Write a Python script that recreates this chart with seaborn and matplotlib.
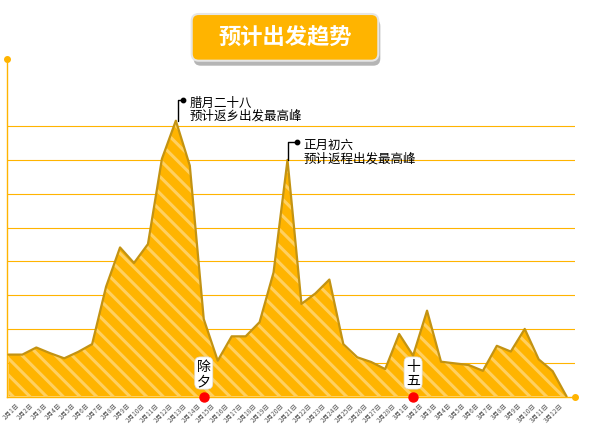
import matplotlib.pyplot as plt
import matplotlib.transforms as mtransforms
from matplotlib.patches import FancyBboxPatch
import seaborn as sns
import numpy as np
import pandas as pd

# 日期 (2月1日 - 3月12日)
dates = [f"2月{d}日" for d in range(1, 29)] + [f"3月{d}日" for d in range(1, 13)]
# 出发热度, 最后一个点为收尾 0
values = [1.24, 1.24, 1.45, 1.28, 1.13, 1.32, 1.55, 3.25, 4.41, 3.95,
          4.51, 7.03, 8.16, 6.83, 2.29, 1.06, 1.78, 1.78, 2.20, 3.67,
          7.00, 2.74, 3.05, 3.46, 1.55, 1.16, 1.02, 0.81, 1.85, 1.21,
          2.54, 1.03, 0.98, 0.93, 0.76, 1.50, 1.33, 2.00, 1.10, 0.75,
          0.0]
peak_days = ["2月13日", "2月21日"]
peak_notes = ["腊月二十八\n预计返乡出发最高峰", "正月初六\n预计返程出发最高峰"]
mark_days = ["2月15日", "3月2日"]
mark_notes = ["除\n夕", "十\n五"]

ORANGE = "#FFB400"
STRIPE = "#FFD060"
EDGE = "#C39312"

sns.set_style("white")
plt.rcParams["font.family"] = ["Noto Sans CJK SC", "DejaVu Sans"]
plt.rcParams["hatch.linewidth"] = 2.2

df = pd.DataFrame({"idx": range(len(values)), "value": values})

fig = plt.figure(figsize=(5.93, 4.35), dpi=100)
ax = fig.add_axes([0.0118, 0.0862, 0.9578, 0.777])

# 面积 + 斜纹
ax.fill_between(df["idx"], df["value"], facecolor=ORANGE, edgecolor=STRIPE,
                hatch="\\\\", linewidth=0, zorder=2)
sns.lineplot(data=df, x="idx", y="value", color=EDGE, linewidth=1.6, ax=ax, zorder=3)

ax.set_xlim(-0.1, 40.6)
ax.set_ylim(0, 10)
ax.set_yticks(range(1, 9))
ax.yaxis.grid(True, color=ORANGE, linewidth=0.8)
ax.xaxis.grid(False)
ax.set_axisbelow(True)
ax.tick_params(axis="y", length=0, labelleft=False)
ax.set_xticks(np.arange(len(dates)) + 0.3)
ax.set_xticklabels(dates, rotation=45, ha="right", rotation_mode="anchor",
                   fontsize=4.7, color="#5a5a5a")
ax.tick_params(axis="x", direction="in", length=2.5, width=1.2, color="white", pad=3)
shift = mtransforms.ScaledTranslation(3 / 100, 0, fig.dpi_scale_trans)
for lab in ax.get_xticklabels():
    lab.set_transform(lab.get_transform() + shift)
ax.set_xlabel("")
ax.set_ylabel("")
for s in ["top", "right"]:
    ax.spines[s].set_visible(False)
for s in ["left", "bottom"]:
    ax.spines[s].set_color(ORANGE)
    ax.spines[s].set_linewidth(1.0)
ax.scatter([-0.1, 40.6], [10, 0], s=16, color=ORANGE, clip_on=False, zorder=5)

# 峰值标注
offsets = [(0.15, 0.5, 0.61), (0.07, 0.67, 0.52)]
for day, note, (dx0, dx1, dy) in zip(peak_days, peak_notes, offsets):
    i = dates.index(day)
    v = values[i]
    ax.plot([i + dx0, i + dx0, i + dx1], [v, v + dy, v + dy], color="black",
            linewidth=1.0, zorder=6)
    ax.scatter([i + dx1], [v + dy], s=10, color="black", zorder=6)
    ax.annotate(note, xy=(i + dx1, v + dy), xytext=(5, 3), textcoords="offset points",
                ha="left", va="top", fontsize=9, linespacing=1.0, color="black")

# 除夕 / 十五
blend = mtransforms.blended_transform_factory(ax.transData, ax.transAxes)
for day, note in zip(mark_days, mark_notes):
    i = dates.index(day)
    ax.text(i, 0.0695, note, transform=blend, ha="center", va="center",
            fontsize=10, linespacing=1.0, color="black", zorder=7,
            bbox=dict(boxstyle="round,pad=0.15,rounding_size=0.4",
                      fc="white", ec="#dddddd", lw=0.5))
    ax.scatter([i], [0], s=42, color="#FF0000", zorder=8, clip_on=False)

# 标题
tr = fig.dpi_scale_trans
fig.patches.append(FancyBboxPatch((1.937, 3.683), 1.866, 0.467,
                                  boxstyle="round,pad=0,rounding_size=0.07",
                                  fc="#B5B5B5", ec="none", transform=tr, figure=fig))
fig.patches.append(FancyBboxPatch((1.917, 3.733), 1.866, 0.467,
                                  boxstyle="round,pad=0,rounding_size=0.07",
                                  fc=ORANGE, ec="#E6E6E6", lw=1.5, transform=tr, figure=fig))
fig.text(2.85, 3.967, "预计出发趋势", transform=tr, ha="center", va="center",
         fontsize=16, fontweight="bold", color="white")

fig.savefig("out.png", dpi=100)
